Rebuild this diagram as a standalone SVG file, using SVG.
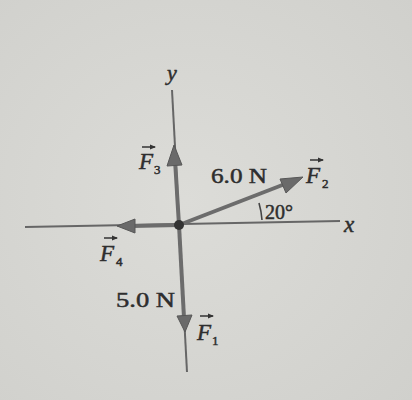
<svg xmlns="http://www.w3.org/2000/svg" width="412" height="400" viewBox="0 0 412 400">
<defs>
<radialGradient id="bg" cx="0.45" cy="0.5" r="0.75">
<stop offset="0" stop-color="#dcdcd8"/>
<stop offset="1" stop-color="#d0d0cc"/>
</radialGradient>
<marker id="vec" viewBox="0 0 6 6" refX="5" refY="3" markerWidth="6" markerHeight="6" markerUnits="userSpaceOnUse" orient="auto">
<path d="M0,0.5 L6,3 L0,5.5 Z" fill="#333"/>
</marker>
</defs>
<style>
.axis{stroke:#666;stroke-width:2;fill:none}
.force{stroke:#6c6c6c;stroke-width:4;fill:none}
.head{fill:#6a6a6a;stroke:#575757;stroke-width:1}
.lab{font-family:"Liberation Serif","Times New Roman",serif;fill:#2e2e2e;stroke:#2e2e2e;stroke-width:0.5}
.it{font-style:italic}
.ov{stroke:#333;stroke-width:1.5;fill:none}
</style>
<rect width="412" height="400" fill="url(#bg)"/>
<g id="connectors">
<line class="axis" x1="172" y1="90" x2="187" y2="372"/>
<line class="axis" x1="25" y1="227" x2="340" y2="221"/>
<line class="force" x1="179" y1="225" x2="175" y2="160"/>
<line class="force" x1="179" y1="225" x2="184" y2="318"/>
<line class="force" x1="179" y1="225" x2="132" y2="226"/>
<line class="force" x1="179" y1="225" x2="285" y2="184"/>
<path class="head" d="M174,145 L167,166 L182,165 Z"/>
<path class="head" d="M185,332 L177,316 L192,315 Z"/>
<path class="head" d="M117,226 L135,219 L135,233 Z"/>
<path class="head" d="M303,177 L280,179 L286,193 Z"/>
<path d="M262,220 A83,83 0 0 0 259,203" stroke="#444" stroke-width="1.6" fill="none"/>
</g>
<g id="origin"><circle cx="179" cy="225" r="5" fill="#333"/></g>
<g id="axis-y"><text class="lab it" x="172" y="80" font-size="22" text-anchor="middle">y</text></g>
<g id="axis-x"><text class="lab it" x="349" y="232" font-size="23" text-anchor="middle">x</text></g>
<g id="F3">
<line class="ov" x1="142" y1="147" x2="155" y2="147" marker-end="url(#vec)"/>
<text class="lab it" x="139" y="169" font-size="23">F</text>
<text class="lab" x="154" y="174" font-size="13">3</text>
</g>
<g id="F2">
<line class="ov" x1="310" y1="160" x2="323" y2="160" marker-end="url(#vec)"/>
<text class="lab it" x="306" y="183" font-size="23">F</text>
<text class="lab" x="322" y="188" font-size="13">2</text>
<text class="lab" x="211" y="183" font-size="22" textLength="56" lengthAdjust="spacingAndGlyphs">6.0 N</text>
<text class="lab" x="265" y="219" font-size="20">20°</text>
</g>
<g id="F4">
<line class="ov" x1="104" y1="238" x2="117" y2="238" marker-end="url(#vec)"/>
<text class="lab it" x="100" y="261" font-size="23">F</text>
<text class="lab" x="116" y="266" font-size="13">4</text>
</g>
<g id="F1">
<line class="ov" x1="200" y1="316" x2="213" y2="316" marker-end="url(#vec)"/>
<text class="lab it" x="197" y="340" font-size="23">F</text>
<text class="lab" x="212" y="345" font-size="13">1</text>
<text class="lab" x="116" y="307" font-size="22" textLength="59" lengthAdjust="spacingAndGlyphs">5.0 N</text>
</g>
</svg>
